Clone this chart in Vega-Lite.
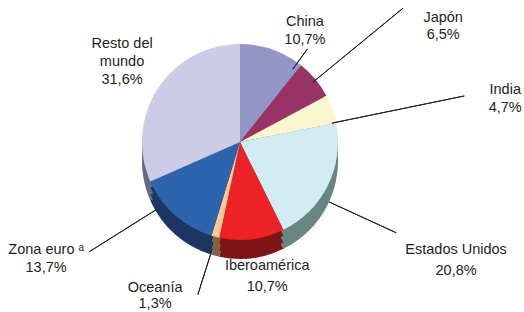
{
  "$schema": "https://vega.github.io/schema/vega-lite/v6.json",
  "width": 480,
  "height": 284,
  "autosize": {"type": "none"},
  "padding": {"left": 0, "top": 0, "right": 44, "bottom": 28},
  "background": "white",
  "config": {
    "view": {"stroke": null},
    "text": {"font": "Liberation Sans", "fontSize": 14.5, "fill": "#231f20", "lineBreak": "\n", "lineHeight": 19}
  },
  "data": {
    "values": [
      {"region": "China", "valor": 10.7, "orden": 1, "etiqueta": "China\n10,7%"},
      {"region": "Japón", "valor": 6.5, "orden": 2, "etiqueta": "Japón\n6,5%"},
      {"region": "India", "valor": 4.7, "orden": 3, "etiqueta": "India\n4,7%"},
      {"region": "Estados Unidos", "valor": 20.8, "orden": 4, "etiqueta": "Estados Unidos\n20,8%"},
      {"region": "Iberoamérica", "valor": 10.7, "orden": 5, "etiqueta": "Iberoamérica\n10,7%"},
      {"region": "Oceanía", "valor": 1.3, "orden": 6, "etiqueta": "Oceanía\n1,3%"},
      {"region": "Zona euro", "valor": 13.7, "orden": 7, "etiqueta": "Zona euro ᵃ\n13,7%"},
      {"region": "Resto del mundo", "valor": 31.6, "orden": 8, "etiqueta": "Resto del\nmundo\n31,6%"}
    ]
  },
  "encoding": {
    "theta": {"field": "valor", "type": "quantitative", "stack": true},
    "order": {"field": "orden", "type": "quantitative"}
  },
  "layer": [
    {
      "mark": {"type": "arc", "outerRadius": 98, "yOffset": 19},
      "encoding": {"fill": {"field": "region", "type": "nominal", "legend": null,
        "scale": {"domain": ["China","Japón","India","Estados Unidos","Iberoamérica","Oceanía","Zona euro","Resto del mundo"],
                  "range": ["#5d5f85","#5e1f3f","#9a9474","#678581","#7d1516","#7f6447","#1d3563","#676a82"]}}}
    },
    {
      "mark": {"type": "arc", "outerRadius": 98, "yOffset": 13},
      "encoding": {"fill": {"field": "region", "type": "nominal", "legend": null}}
    },
    {
      "mark": {"type": "arc", "outerRadius": 98, "yOffset": 6},
      "encoding": {"fill": {"field": "region", "type": "nominal", "legend": null}}
    },
    {
      "mark": {"type": "arc", "outerRadius": 98},
      "encoding": {"color": {"field": "region", "type": "nominal", "legend": null,
        "scale": {"domain": ["China","Japón","India","Estados Unidos","Iberoamérica","Oceanía","Zona euro","Resto del mundo"],
                  "range": ["#9596c8","#993366","#fbf6cf","#d1ecf2","#ec2226","#fcc896","#2e64ae","#cdcbe5"]}}}
    },
    {
      "mark": {"type": "arc", "innerRadius": 90, "outerRadius": 115, "padAngle": 3.1416, "thetaOffset": 0.291, "theta2Offset": 0.291, "fillOpacity": 0, "stroke": "#231f20", "strokeWidth": 1},
      "encoding": {"strokeOpacity": {"condition": {"test": "datum.region === 'China'", "value": 1}, "value": 0}}
    },
    {
      "mark": {"type": "arc", "innerRadius": 94, "outerRadius": 211, "padAngle": 3.1416, "thetaOffset": 0.007, "theta2Offset": 0.007, "fillOpacity": 0, "stroke": "#231f20", "strokeWidth": 1},
      "encoding": {"strokeOpacity": {"condition": {"test": "datum.region === 'Japón'", "value": 1}, "value": 0}}
    },
    {
      "mark": {"type": "arc", "innerRadius": 94, "outerRadius": 229, "padAngle": 3.1416, "thetaOffset": 0.14, "theta2Offset": 0.14, "fillOpacity": 0, "stroke": "#231f20", "strokeWidth": 1},
      "encoding": {"strokeOpacity": {"condition": {"test": "datum.region === 'India'", "value": 1}, "value": 0}}
    },
    {
      "mark": {"type": "arc", "innerRadius": 98, "outerRadius": 172, "padAngle": 3.1416, "thetaOffset": -0.028, "theta2Offset": -0.028, "yOffset": 19, "fillOpacity": 0, "stroke": "#231f20", "strokeWidth": 1},
      "encoding": {"strokeOpacity": {"condition": {"test": "datum.region === 'Estados Unidos'", "value": 1}, "value": 0}}
    },
    {
      "mark": {"type": "arc", "innerRadius": 98, "outerRadius": 140, "padAngle": 3.1416, "thetaOffset": 0.051, "theta2Offset": 0.051, "yOffset": 19, "fillOpacity": 0, "stroke": "#231f20", "strokeWidth": 1},
      "encoding": {"strokeOpacity": {"condition": {"test": "datum.region === 'Oceanía'", "value": 1}, "value": 0}}
    },
    {
      "mark": {"type": "arc", "innerRadius": 98, "outerRadius": 178, "padAngle": 3.1416, "thetaOffset": 0.284, "theta2Offset": 0.284, "yOffset": 15, "fillOpacity": 0, "stroke": "#231f20", "strokeWidth": 1},
      "encoding": {"strokeOpacity": {"condition": {"test": "datum.region === 'Zona euro'", "value": 1}, "value": 0}}
    },
    {
      "mark": {"type": "text", "radius": 121, "dx": 25, "dy": -6, "lineHeight": 18},
      "encoding": {"text": {"condition": {"test": "datum.region === 'China'", "field": "etiqueta"}, "value": ""}}
    },
    {
      "mark": {"type": "text", "radius": 185, "dx": 61, "dy": -5.5, "lineHeight": 17},
      "encoding": {"text": {"condition": {"test": "datum.region === 'Japón'", "field": "etiqueta"}, "value": ""}}
    },
    {
      "mark": {"type": "text", "radius": 220, "dx": 58, "dy": 22, "lineHeight": 18},
      "encoding": {"text": {"condition": {"test": "datum.region === 'India'", "field": "etiqueta"}, "value": ""}}
    },
    {
      "mark": {"type": "text", "radius": 241, "dy": 1.5, "lineHeight": 21},
      "encoding": {"text": {"condition": {"test": "datum.region === 'Estados Unidos'", "field": "etiqueta"}, "value": ""}}
    },
    {
      "mark": {"type": "text", "radius": 132.5, "dx": 11, "dy": -7.5, "lineHeight": 21},
      "encoding": {"text": {"condition": {"test": "datum.region === 'Iberoamérica'", "field": "etiqueta"}, "value": ""}}
    },
    {
      "mark": {"type": "text", "radius": 158.6, "dx": -45, "dy": -7.5, "lineHeight": 16},
      "encoding": {"text": {"condition": {"test": "datum.region === 'Oceanía'", "field": "etiqueta"}, "value": ""}}
    },
    {
      "mark": {"type": "text", "radius": 152, "dx": -93, "dy": -6, "lineHeight": 18},
      "encoding": {"text": {"condition": {"test": "datum.region === 'Zona euro'", "field": "etiqueta"}, "value": ""}}
    },
    {
      "mark": {"type": "text", "radius": 148, "dx": 6, "dy": -17, "lineHeight": 18},
      "encoding": {"text": {"condition": {"test": "datum.region === 'Resto del mundo'", "field": "etiqueta"}, "value": ""}}
    }
  ]
}
